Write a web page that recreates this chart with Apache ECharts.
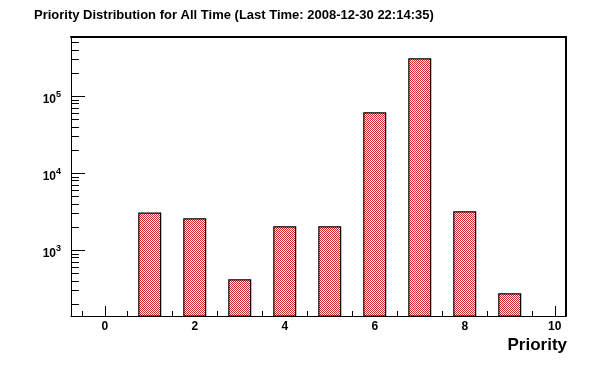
<!DOCTYPE html>
<html>
<head>
<meta charset="utf-8">
<script src="https://cdn.jsdelivr.net/npm/echarts@6/dist/echarts.min.js"></script>
<style>html,body{margin:0;padding:0;background:#fff;}#c{width:596px;height:372px;}</style>
</head>
<body>
<div id="c"></div>
<script>
// ---- data ----
var priorities = [1, 2, 3, 4, 5, 6, 7, 8, 9];
var counts = [3100, 2600, 420, 2050, 2050, 62000, 311000, 3200, 277];
var xMajorTicks = [0, 2, 4, 6, 8, 10];
var xMinorTicks = [-0.5, 0.5, 1, 1.5, 2.5, 3, 3.5, 4.5, 5, 5.5, 6.5, 7, 7.5, 8.5, 9, 9.5];
var yMajorTicks = [1000, 10000, 100000];
var yMinorTicks = [200, 300, 400, 500, 600, 700, 800, 900,
  2000, 3000, 4000, 5000, 6000, 7000, 8000, 9000,
  20000, 30000, 40000, 50000, 60000, 70000, 80000, 90000,
  200000, 300000, 400000, 500000];
var titleText = 'Priority Distribution for All Time (Last Time: 2008-12-30 22:14:35)';
var xName = 'Priority';

// checkerboard fill pattern
var pc = document.createElement('canvas');
pc.width = 2; pc.height = 2;
var g = pc.getContext('2d');
g.fillStyle = '#ffffff'; g.fillRect(0, 0, 2, 2);
g.fillStyle = '#d42a2a'; g.fillRect(0, 0, 1, 1); g.fillRect(1, 1, 1, 1);

var FONT = 'Liberation Sans, Arial, Helvetica, sans-serif';
var yMin = 140, yMax = 589000, xMin = -0.75, xMax = 10.25;

var chart = echarts.init(document.getElementById('c'), null, {renderer: 'canvas'});
chart.setOption({
  animation: false,
  backgroundColor: '#fff',
  title: {
    text: titleText, left: 29, top: 4,
    textStyle: {fontFamily: FONT, fontWeight: 'bold', fontSize: 13, color: '#000'}
  },
  grid: {left: 71, right: 30, top: 37, bottom: 56, containLabel: false},
  xAxis: [{
    type: 'value', min: xMin, max: xMax, position: 'bottom',
    axisLine: {show: true, onZero: false, lineStyle: {color: '#000', width: 1}},
    axisTick: {show: true, inside: true, length: 10, customValues: xMajorTicks, lineStyle: {color: '#000', width: 1}},
    axisLabel: {show: true, customValues: xMajorTicks, margin: 5, color: '#000',
      fontFamily: FONT, fontWeight: 'bold', fontSize: 12},
    splitLine: {show: false},
    name: xName, nameLocation: 'end', nameGap: 1,
    nameTextStyle: {fontFamily: FONT, fontWeight: 'bold', fontSize: 17, color: '#000',
      align: 'right', verticalAlign: 'top', padding: [21, 0, 0, 0]}
  }, {
    type: 'value', min: xMin, max: xMax, position: 'bottom',
    axisLine: {show: false, onZero: false},
    axisTick: {show: true, inside: true, length: 5, customValues: xMinorTicks, lineStyle: {color: '#000', width: 1}},
    axisLabel: {show: false}, splitLine: {show: false}
  }, {
    type: 'value', min: xMin, max: xMax, position: 'top',
    axisLine: {show: true, onZero: false, lineStyle: {color: '#000', width: 2}},
    axisTick: {show: false}, axisLabel: {show: false}, splitLine: {show: false}
  }],
  yAxis: [{
    type: 'log', logBase: 10, min: yMin, max: yMax, position: 'left',
    axisLine: {show: true, onZero: false, lineStyle: {color: '#000', width: 1}},
    axisTick: {show: true, inside: true, length: 14, customValues: yMajorTicks, lineStyle: {color: '#000', width: 1}},
    axisLabel: {show: true, customValues: yMajorTicks, margin: 10, color: '#000',
      formatter: function (v) {
        return '{b|10}{s|' + Math.round(Math.log10(v)) + '}';
      },
      rich: {
        b: {fontFamily: FONT, fontWeight: 'bold', fontSize: 12, color: '#000', padding: [6, 0, 0, 0]},
        s: {fontFamily: FONT, fontWeight: 'bold', fontSize: 9, color: '#000', padding: [0, 0, 4, 0]}
      }
    },
    splitLine: {show: false}
  }, {
    type: 'log', logBase: 10, min: yMin, max: yMax, position: 'left',
    axisLine: {show: false, onZero: false},
    axisTick: {show: true, inside: true, length: 8, customValues: yMinorTicks, lineStyle: {color: '#000', width: 1}},
    axisLabel: {show: false}, splitLine: {show: false}
  }, {
    type: 'log', logBase: 10, min: yMin, max: yMax, position: 'right',
    axisLine: {show: true, onZero: false, lineStyle: {color: '#000', width: 2}},
    axisTick: {show: false}, axisLabel: {show: false}, splitLine: {show: false}
  }],
  series: [{
    type: 'bar',
    xAxisIndex: 0, yAxisIndex: 0,
    barWidth: 23,
    data: priorities.map(function (p, i) { return [p, counts[i]]; }),
    itemStyle: {color: {image: pc, repeat: 'repeat'}, borderColor: '#000', borderWidth: 1.2}
  }]
});
</script>
</body>
</html>
